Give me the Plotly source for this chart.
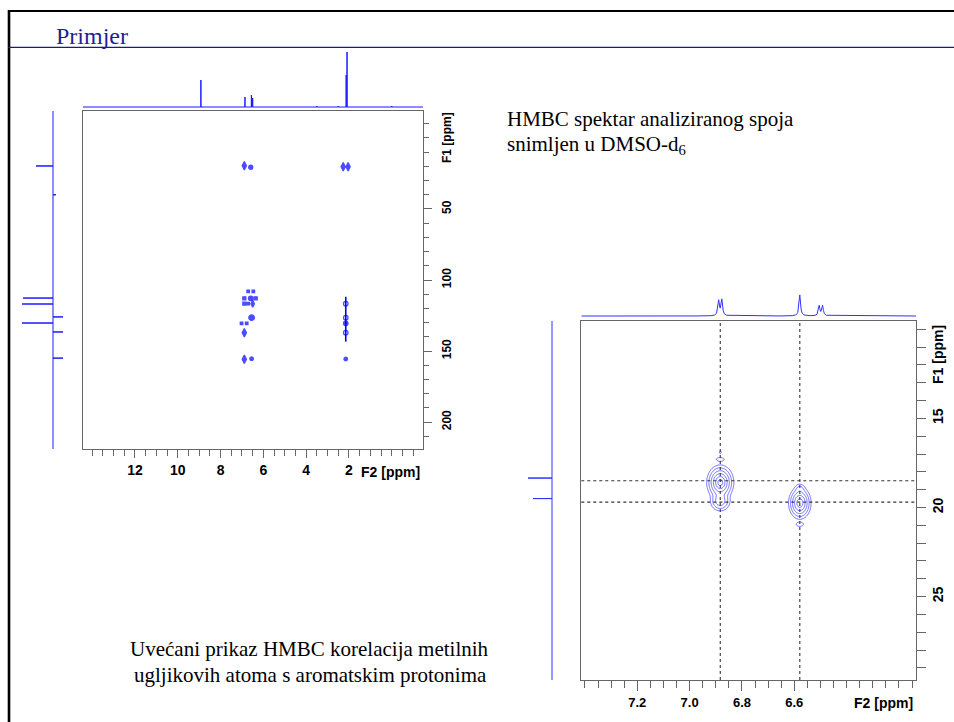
import numpy as np
import plotly.graph_objects as go

W, H = 954, 722

# ---------------- data ----------------
# Full HMBC spectrum: 1H projection (F2), stick positions [ppm] and heights
f2_proj_ppm = [8.92, 6.86, 6.56, 6.50, 3.50, 2.50, 2.13, 2.09, 0.00]
f2_proj_int = [27, 10, 12, 9, 1, 1, 32, 55, 1]
# 13C projection (F1), positive to the left, negative to the right
f1_proj_ppm = [19.7, 40.0, 112.7, 116.9, 126.0, 130.3, 136.6, 155.0]
f1_proj_int = [17, -3, 30, 31, -10, 31, -10, -10]

# Cross peaks of the full spectrum
cp_f2 = [6.89, 6.59, 2.27, 2.04, 6.71, 6.47, 6.89, 6.59, 6.36, 6.89, 6.71, 6.50,
         6.55, 7.02, 6.78, 6.89, 6.89, 6.55,
         2.15, 2.15, 2.15, 2.15, 2.15]
cp_f1 = [19.5, 20.6, 20.2, 20.2, 108.0, 108.0, 112.9, 112.9, 112.9, 116.7, 116.7, 116.7,
         126.5, 130.5, 130.5, 137.1, 155.8, 155.4,
         116.7, 126.5, 130.5, 137.1, 155.6]
cp_size = [6, 4, 6, 6, 2.5, 2.5, 3, 4.5, 3, 3, 2.5, 5,
           5.5, 2.5, 2.5, 6, 6, 3.5,
           4.5, 4.5, 4.5, 4.5, 3.5]
cp_symbol = ["diamond-tall", "circle", "diamond-tall", "diamond-tall", "square", "square",
             "square", "circle", "square", "square", "square", "diamond-tall",
             "circle", "square", "square", "diamond-tall", "diamond-tall", "circle",
             "circle-open", "circle-open", "circle", "circle-open", "circle"]
# methyl correlation ridge (F2, F1 start/end)
ridge_f2 = [2.15, 2.15]
ridge_f1 = [111.8, 143.4]

# Zoomed spectrum: 1H projection peaks
z_h_ppm = [6.889, 6.877, 6.579, 6.505, 6.492]
z_h_int = [15, 16, 21, 10, 10]
# 13C projection peaks
z_c_ppm = [18.35, 19.5]
z_c_int = [24, 19]
# cross peak components: F2, F1, width F2, width F1, amplitude
zp_f2 = [6.883, 6.883, 6.883, 6.883, 6.579, 6.579, 6.579]
zp_f1 = [18.6, 19.65, 17.3, 16.9, 19.75, 18.95, 20.95]
zp_wx = [0.020, 0.017, 0.012, 0.004, 0.017, 0.010, 0.012]
zp_wy = [0.38, 0.25, 0.08, 0.08, 0.36, 0.15, 0.10]
zp_amp = [1.0, 0.35, 0.07, 0.05, 0.85, 0.10, 0.06]
# guide lines
guide_f2 = [6.883, 6.579]
guide_f1 = [18.5, 19.7]

# ---------------- layout constants ----------------
F2_RANGE = [14.43, -1.46]
F1_RANGE = [219, -19]
ZF2_RANGE = [7.414, 6.135]
ZF1_RANGE = [29.68, 9.52]

def px(x):
    return x / W

def py(y):
    return 1 - y / H

def sticks(pos, hts, lo, hi):
    xs, ys = [lo], [0]
    for p, h in sorted(zip(pos, hts), key=lambda t: t[0], reverse=(lo > hi)):
        xs += [p, p, p]
        ys += [0, h, 0]
    xs.append(hi)
    ys.append(0)
    return xs, ys

BLUE = "#1a1aff"
fig = go.Figure()

# full spectrum top projection
sx, sy = sticks(f2_proj_ppm, f2_proj_int, F2_RANGE[0], F2_RANGE[1])
fig.add_trace(go.Scatter(x=sx, y=sy, mode="lines", line=dict(color=BLUE, width=1),
                         xaxis="x2", yaxis="y2", hoverinfo="skip"))
# full spectrum left projection
ly, lx = sticks(f1_proj_ppm, f1_proj_int, F1_RANGE[1], F1_RANGE[0])
fig.add_trace(go.Scatter(x=lx, y=ly, mode="lines", line=dict(color=BLUE, width=1),
                         xaxis="x3", yaxis="y3", hoverinfo="skip"))
# ridge
fig.add_trace(go.Scatter(x=ridge_f2, y=ridge_f1, mode="lines", line=dict(color="blue", width=1.6),
                         xaxis="x", yaxis="y", hoverinfo="skip"))
# cross peaks
fig.add_trace(go.Scatter(x=cp_f2, y=cp_f1, mode="markers",
                         marker=dict(color="blue", size=cp_size, symbol=cp_symbol,
                                     line=dict(color="blue", width=1.3)),
                         xaxis="x", yaxis="y", hoverinfo="skip"))

# zoom top projection (lorentzian lines)
hx = np.arange(ZF2_RANGE[1], ZF2_RANGE[0], 0.0005)
hy = np.zeros_like(hx)
for p, h in zip(z_h_ppm, z_h_int):
    hy += h / (1 + ((hx - p) / 0.0035) ** 2)
fig.add_trace(go.Scatter(x=np.round(hx, 4), y=np.round(hy, 2), mode="lines",
                         line=dict(color="#3030ff", width=1), xaxis="x5", yaxis="y5",
                         hoverinfo="skip"))
# zoom left projection (sticks)
cy, cx = sticks(z_c_ppm, z_c_int, ZF1_RANGE[1], ZF1_RANGE[0])
fig.add_trace(go.Scatter(x=cx, y=cy, mode="lines", line=dict(color="#3030ff", width=1),
                         xaxis="x6", yaxis="y6", hoverinfo="skip"))

# zoom contour (levels evenly spaced in "radius")
gx = np.arange(6.40, 7.05, 0.0025)
gy = np.arange(15.5, 22.5, 0.03)
GX, GY = np.meshgrid(gx, gy)
Z = np.zeros_like(GX)
for a, b, wx, wy, amp in zip(zp_f2, zp_f1, zp_wx, zp_wy, zp_amp):
    Z += amp * np.exp(-0.5 * (((GX - a) / wx) ** 2 + ((GY - b) / wy) ** 2))
RZ = np.round(np.sqrt(-2 * np.log(np.clip(Z, 1e-6, 1.0))), 3)
fig.add_trace(go.Contour(x=np.round(gx, 4), y=np.round(gy, 3), z=RZ,
                         contours=dict(coloring="lines", start=0.45, end=2.6, size=0.43),
                         colorscale=[[0, "#4848ff"], [1, "#4848ff"]], showscale=False,
                         line=dict(width=0.8), xaxis="x4", yaxis="y4", hoverinfo="skip"))

AX = dict(showgrid=False, zeroline=False, showline=True, mirror=True, linecolor="#666",
          linewidth=1.3, ticks="outside", tickcolor="#666")
FONT_H = dict(family="Liberation Sans", size=14, color="black", weight="bold")

layout = dict(
    width=W, height=H, margin=dict(l=0, r=0, t=0, b=0),
    paper_bgcolor="white", plot_bgcolor="white", showlegend=False,
    xaxis=dict(AX, domain=[px(83), px(423)], range=F2_RANGE, anchor="y",
               tickmode="array", tickvals=[12, 10, 8, 6, 4, 2],
               ticktext=["12", "10", "8", "6", "4", "2"], ticklen=8,
               tickfont=FONT_H,
               minor=dict(ticks="outside", ticklen=6, dtick=0.5, tick0=0, tickcolor="#666")),
    yaxis=dict(AX, domain=[py(449), py(111)], range=F1_RANGE, anchor="x", side="right",
               tickmode="array", tickvals=[50, 100, 150, 200], ticktext=["50", "100", "150", "200"],
               ticklen=8, tickangle=-90, ticklabelstandoff=4,
               tickfont=dict(family="Liberation Sans", size=12, color="black", weight="bold"),
               minor=dict(ticks="outside", ticklen=5, dtick=10, tick0=0, tickcolor="#666")),
    xaxis2=dict(domain=[px(83), px(423)], range=F2_RANGE, anchor="y2", visible=False),
    yaxis2=dict(domain=[py(109), py(50)], range=[-2, 57], anchor="x2", visible=False),
    xaxis3=dict(domain=[px(18), px(68)], range=[35, -15], anchor="y3", visible=False),
    yaxis3=dict(domain=[py(449), py(111)], range=F1_RANGE, anchor="x3", visible=False),
    xaxis4=dict(AX, domain=[px(581.3), px(916)], range=ZF2_RANGE, anchor="y4",
                tickmode="array", tickvals=[7.2, 7.0, 6.8, 6.6],
                ticktext=["7.2", "7.0", "6.8", "6.6"], ticklen=10,
                tickfont=dict(family="Liberation Sans", size=13, color="black", weight="bold"),
                minor=dict(ticks="outside", ticklen=7, dtick=0.05, tick0=0, tickcolor="#666")),
    yaxis4=dict(AX, domain=[py(680), py(320.7)], range=ZF1_RANGE, anchor="x4", side="right",
                tickmode="array", tickvals=[15, 20, 25], ticktext=["15", "20", "25"],
                ticklen=9, tickangle=-90,
                tickfont=dict(family="Liberation Sans", size=14, color="black", weight="bold"),
                minor=dict(ticks="outside", ticklen=9, dtick=1, tick0=0, tickcolor="#666")),
    xaxis5=dict(domain=[px(581.3), px(916)], range=ZF2_RANGE, anchor="y5", visible=False),
    yaxis5=dict(domain=[py(318), py(290)], range=[-2, 26], anchor="x5", visible=False),
    xaxis6=dict(domain=[px(525), px(565)], range=[27, -13], anchor="y6", visible=False),
    yaxis6=dict(domain=[py(680), py(320.7)], range=ZF1_RANGE, anchor="x6", visible=False),
)
fig.update_layout(**layout)

shapes = [
    dict(type="line", xref="paper", yref="paper", x0=px(9), x1=1, y0=py(11), y1=py(11),
         line=dict(color="black", width=2.2)),
    dict(type="line", xref="paper", yref="paper", x0=px(9), x1=px(9), y0=py(10), y1=0,
         line=dict(color="black", width=2.6)),
    dict(type="line", xref="paper", yref="paper", x0=px(8), x1=1, y0=py(47.3), y1=py(47.3),
         line=dict(color="#1a1a80", width=1.3)),
]
for g in guide_f2:
    shapes.append(dict(type="line", xref="x4", yref="y4 domain", x0=g, x1=g, y0=0, y1=1,
                       line=dict(color="#333", width=1.1, dash="3px,3px")))
for g in guide_f1:
    shapes.append(dict(type="line", xref="x4 domain", yref="y4", x0=0, x1=1, y0=g, y1=g,
                       line=dict(color="#333", width=1.1, dash="3px,3px")))
fig.update_layout(shapes=shapes)

SERIF = "Liberation Serif"
ann = [
    dict(text="Primjer", x=px(54), y=py(36), xanchor="left", yanchor="middle",
         font=dict(family=SERIF, size=24, color="#1e1e96")),
    dict(text="HMBC spektar analiziranog spoja", x=px(505), y=py(119), xanchor="left",
         yanchor="middle", font=dict(family=SERIF, size=21, color="black")),
    dict(text="snimljen u DMSO-d<sub>6</sub>", x=px(505), y=py(145), xanchor="left",
         yanchor="middle", font=dict(family=SERIF, size=21, color="black")),
    dict(text="Uvećani prikaz HMBC korelacija metilnih", x=px(309.5), y=py(649), xanchor="center",
         yanchor="middle", font=dict(family=SERIF, size=21, color="black")),
    dict(text="ugljikovih atoma s aromatskim protonima", x=px(310), y=py(675), xanchor="center",
         yanchor="middle", font=dict(family=SERIF, size=21, color="black")),
    dict(text="F1 [ppm]", x=px(447), y=py(138), xanchor="center", yanchor="middle", textangle=-90,
         font=dict(family="Liberation Sans", size=12, color="black", weight="bold")),
    dict(text="F2 [ppm]", x=px(390), y=py(472), xanchor="center", yanchor="middle",
         font=FONT_H),
    dict(text="F1 [ppm]", x=px(938), y=py(355), xanchor="center", yanchor="middle", textangle=-90,
         font=dict(family="Liberation Sans", size=14, color="black", weight="bold")),
    dict(text="F2 [ppm]", x=px(883), y=py(703), xanchor="center", yanchor="middle",
         font=dict(family="Liberation Sans", size=14, color="black", weight="bold")),
]
for a in ann:
    a.update(xref="paper", yref="paper", showarrow=False)
fig.update_layout(annotations=ann)

fig.write_html("out.html")
